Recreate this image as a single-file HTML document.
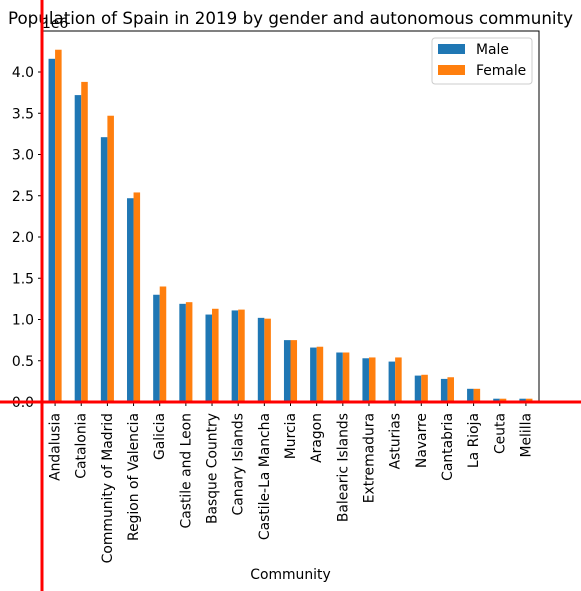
<!DOCTYPE html>
<html><head><meta charset="utf-8"><style>
body{margin:0;background:#fff;}
svg{display:block;font-family:"DejaVu Sans","Liberation Sans",sans-serif;}
</style></head><body>
<svg id="chart" width="581" height="591">
<text x="290.5" y="24" font-size="16.7" text-anchor="middle">Population of Spain in 2019 by gender and autonomous community</text>
<g id="plot"></g>
</svg>
<script>
const categories=["Andalusia","Catalonia","Community of Madrid","Region of Valencia","Galicia","Castile and Leon","Basque Country","Canary Islands","Castile-La Mancha","Murcia","Aragon","Balearic Islands","Extremadura","Asturias","Navarre","Cantabria","La Rioja","Ceuta","Melilla"];
const maleValues=[4.16,3.72,3.21,2.47,1.30,1.19,1.06,1.11,1.02,0.75,0.66,0.60,0.53,0.49,0.32,0.28,0.16,0.04,0.04];
const femaleValues=[4.27,3.88,3.47,2.54,1.40,1.21,1.13,1.12,1.01,0.75,0.67,0.60,0.54,0.54,0.33,0.30,0.16,0.04,0.04];
const yTicks=[0,0.5,1.0,1.5,2.0,2.5,3.0,3.5,4.0];
const NS="http://www.w3.org/2000/svg";
const g=document.getElementById('plot');
const L=42,R=539,T=31,B=402,yMax=4.497;
const step=(R-L)/categories.length;
const xC=i=>L+step*(i+0.5);
const y=v=>B-(v/yMax)*(B-T);
function mk(t,a){const e=document.createElementNS(NS,t);for(const k in a)e.setAttribute(k,a[k]);g.appendChild(e);return e;}
const bw=step*0.25;
categories.forEach((c,i)=>{
 const m=mk('rect',{x:xC(i)-bw,y:y(maleValues[i]),width:bw,height:B-y(maleValues[i]),fill:'#1f77b4'});
 
 
 const f=mk('rect',{x:xC(i),y:y(femaleValues[i]),width:bw,height:B-y(femaleValues[i]),fill:'#ff7f0e'});
 
 
 mk('line',{x1:xC(i),x2:xC(i),y1:B,y2:B+4,stroke:'#000'});
 const tx=xC(i)+4.5,ty=B+11;
 const t=mk('text',{x:tx,y:ty,'font-size':13.9,'text-anchor':'end',transform:`rotate(-90 ${tx} ${ty})`});
 t.textContent=c;
 
 
});
yTicks.forEach(v=>{
 mk('line',{x1:L-4,x2:L,y1:y(v),y2:y(v),stroke:'#000'});
 const t=mk('text',{x:L-8,y:y(v)+5,'font-size':13.9,'text-anchor':'end'});
 t.textContent=v.toFixed(1);
 
 
});
mk('rect',{x:L,y:T,width:R-L,height:B-T,fill:'none',stroke:'#000','stroke-width':1});
const off=mk('text',{x:L,y:T-3,'font-size':13.9});off.textContent='1e6';


const xl=mk('text',{x:290.5,y:579,'font-size':13.9,'text-anchor':'middle'});xl.textContent='Community';


const lg=mk('rect',{x:432,y:38,width:100,height:46,fill:'#fff',stroke:'#ccc',rx:3});


[['Male','#1f77b4',44],['Female','#ff7f0e',65]].forEach(([n,c,yy])=>{
 mk('rect',{x:438,y:yy,width:27,height:10,fill:c});
 const t=mk('text',{x:476,y:yy+10,'font-size':13.9});t.textContent=n;
 
 
});
mk('line',{x1:42,x2:42,y1:0,y2:591,stroke:'#f00','stroke-width':3});
mk('line',{x1:0,x2:581,y1:402,y2:402,stroke:'#f00','stroke-width':3});
</script>
</body></html>
